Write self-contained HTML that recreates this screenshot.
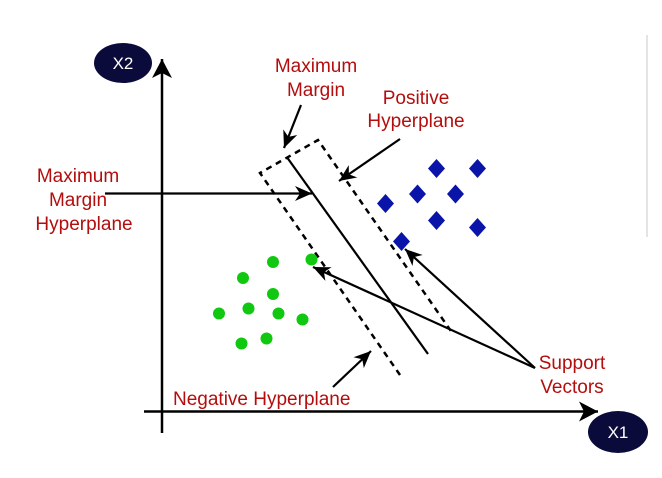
<!DOCTYPE html>
<html><head><meta charset="utf-8"><style>
html,body{margin:0;padding:0;background:#fff;}
svg{display:block;}
text{font-family:"Liberation Sans",sans-serif;}
</style></head><body>
<svg width="662" height="478" viewBox="0 0 662 478" xmlns="http://www.w3.org/2000/svg">
<defs>
<marker id="a" viewBox="-20 -10 22 20" refX="0" refY="0" markerWidth="22" markerHeight="20" markerUnits="userSpaceOnUse" orient="auto">
<path d="M0,0 L-17,-7.5 L-12,0 L-17,7.5Z" fill="#000"/>
</marker>
<marker id="ax" viewBox="-22 -12 24 24" refX="0" refY="0" markerWidth="24" markerHeight="24" markerUnits="userSpaceOnUse" orient="auto">
<path d="M0,0 L-19,-10 L-14,0 L-19,10Z" fill="#000"/>
</marker>
</defs>
<rect width="662" height="478" fill="#fff"/>
<line x1="647" y1="35" x2="647" y2="237" stroke="#c8c8c8" stroke-width="1"/>

<!-- axes -->
<line x1="162" y1="433" x2="162" y2="59" stroke="#000" stroke-width="2.5" marker-end="url(#ax)"/>
<line x1="144" y1="411.5" x2="598" y2="411.5" stroke="#000" stroke-width="2.5" marker-end="url(#ax)"/>

<!-- ellipses -->
<ellipse cx="123" cy="63" rx="29" ry="20" fill="#0b0b3b"/>
<text x="123" y="69" fill="#fff" font-size="17" text-anchor="middle">X2</text>
<ellipse cx="618" cy="432" rx="30" ry="21" fill="#0b0b3b"/>
<text x="618" y="438" fill="#fff" font-size="17" text-anchor="middle">X1</text>

<!-- dashed margin box -->
<g stroke="#000" stroke-width="2.5" fill="none" stroke-dasharray="6,5">
<polyline points="400,375 260,173 318,140 453,334"/>
</g>
<!-- hyperplane -->
<line x1="287.5" y1="158" x2="428" y2="354" stroke="#000" stroke-width="2.2"/>

<!-- green dots -->
<g fill="#10c810">
<circle cx="273" cy="262" r="6"/>
<circle cx="311.5" cy="259.5" r="6"/>
<circle cx="243" cy="278" r="6"/>
<circle cx="273" cy="294" r="6"/>
<circle cx="248.5" cy="308.5" r="6"/>
<circle cx="219" cy="313.5" r="6"/>
<circle cx="278.5" cy="313.5" r="6"/>
<circle cx="302.5" cy="319.5" r="6"/>
<circle cx="266.5" cy="338.5" r="6"/>
<circle cx="241.5" cy="343.5" r="6"/>
</g>

<!-- blue diamonds -->
<g fill="#0a14a8">
<path d="M436.5,159 L445,168.5 L436.5,178 L428,168.5Z"/>
<path d="M477.5,159 L486,168.5 L477.5,178 L469,168.5Z"/>
<path d="M417.5,184.5 L426,194 L417.5,203.5 L409,194Z"/>
<path d="M455.5,184.5 L464,194 L455.5,203.5 L447,194Z"/>
<path d="M385.5,194 L394,203.5 L385.5,213 L377,203.5Z"/>
<path d="M436.5,211 L445,220.5 L436.5,230 L428,220.5Z"/>
<path d="M477.5,218 L486,227.5 L477.5,237 L469,227.5Z"/>
<path d="M401.5,232 L410,241.5 L401.5,251 L393,241.5Z"/>
</g>

<!-- arrows -->
<g stroke="#000" stroke-width="2.2" fill="none" marker-end="url(#a)">
<line x1="301" y1="105" x2="284" y2="148"/>
<line x1="400" y1="139" x2="339" y2="181"/>
<line x1="105" y1="193.5" x2="312" y2="193.5"/>
<line x1="535" y1="368" x2="313" y2="267"/>
<line x1="535" y1="368" x2="405" y2="249"/>
<line x1="333" y1="387" x2="371" y2="351"/>
</g>

<!-- labels -->
<g fill="#b40d0d" font-size="19" text-anchor="middle">
<text x="316" y="72">Maximum</text>
<text x="316" y="96">Margin</text>
<text x="416" y="104">Positive</text>
<text x="416" y="127">Hyperplane</text>
<text x="78" y="182">Maximum</text>
<text x="78" y="206">Margin</text>
<text x="84" y="230">Hyperplane</text>
<text x="572" y="369">Support</text>
<text x="572" y="393">Vectors</text>
</g>
<text x="173" y="405" fill="#b40d0d" font-size="19">Negative Hyperplane</text>
</svg>
</body></html>
